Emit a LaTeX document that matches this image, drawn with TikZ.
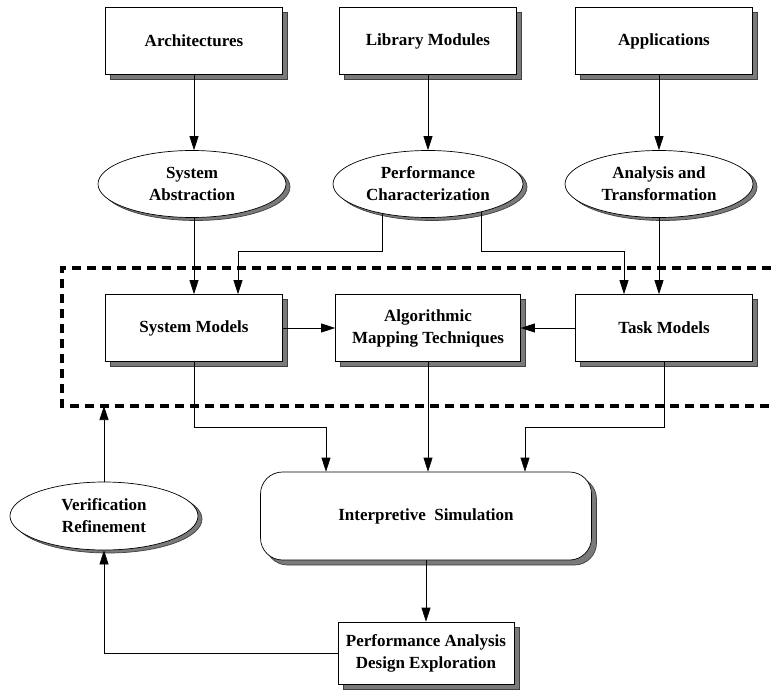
\documentclass[tikz,border=0pt]{standalone}
\usepackage{fontspec}
\setmainfont{Liberation Serif}
\usepackage{tikz}
\usetikzlibrary{shapes.geometric}
\usetikzlibrary{arrows.meta}
\usetikzlibrary{shadows}

\begin{document}
\begin{tikzpicture}[x=1pt,y=-1pt,
        every node/.style={font=\bfseries\fontsize{17}{22}\selectfont,align=center,inner sep=0pt,fill=white},
        sdw/.style={drop shadow={shadow xshift=5pt,shadow yshift=-5pt,fill=black!52,draw=black!75,opacity=1}},
        blockbox/.style={draw,line width=0.7pt,minimum width=177pt,minimum height=67pt,sdw},
        ovalbox/.style={draw,ellipse,line width=0.7pt,minimum width=188pt,minimum height=67pt,
            drop shadow={shadow xshift=4pt,shadow yshift=-3pt,fill=black!52,draw=black!75,opacity=1}},
        arr/.style={line width=0.7pt,-{Triangle[length=14pt,width=9pt]}}]
        \useasboundingbox (0,0) rectangle (771,690);
        % sources
        \node [blockbox] (arch) at (194,41) {Architectures};
        \node [blockbox] (libmod) at (428,41) {Library Modules};
        \node [blockbox] (apps) at (664,41) {Applications};
        \node [ovalbox] (sysabs) at (192,184) {System\\Abstraction};
        \node [ovalbox,minimum width=190pt] (perfchar) at (428,184) {Performance\\Characterization};
        \node [ovalbox] (ana) at (659,184) {Analysis and\\Transformation};
        % mapping stage
        \draw [line width=3.5pt,dash pattern=on 9pt off 6pt] (771,268) -- (62,268) -- (62,406) -- (771,406);
        \node [blockbox] (sysmod) at (194,328) {System Models};
        \node [blockbox,minimum width=185pt] (algo) at (428,328) {Algorithmic\\Mapping Techniques};
        \node [blockbox] (task) at (664,328) {Task Models};
        \node [draw,line width=0.7pt,rounded corners=22pt,minimum width=331pt,minimum height=88pt,sdw] (interp) at (426,516) {Interpretive\ \ Simulation};
        \node [blockbox,minimum width=176pt,minimum height=62pt] (perfana) at (426,653) {Performance Analysis\\Design Exploration};
        \node [ovalbox,minimum height=68pt] (verif) at (104,516) {Verification\\Refinement};
        \coordinate (pl) at (238,251);
        \coordinate (pr) at (624,251);
        \coordinate (bl) at (326,427);
        \coordinate (br) at (525,427);
        \coordinate (dl) at (104,406);
        % connectors
        \draw [arr] (arch) -- (arch |- sysabs.north);
        \draw [arr] (libmod) -- (perfchar);
        \draw [arr] (ana |- apps.south) -- (ana);
        \draw [arr] (sysmod |- sysabs.south) -- (sysmod);
        \draw [arr] (ana) -- (ana |- task.north);
        \draw [arr] (perfchar.213) |- (pl) -- (pl |- sysmod.north);
        \draw [arr] (perfchar.332) |- (pr) -- (pr |- task.north);
        \draw [arr] (sysmod) -- (algo);
        \draw [arr] (task) -- (algo);
        \draw [arr] (sysmod) |- (bl) -- (bl |- interp.north);
        \draw [arr] (algo.south) -- (algo.south |- interp.north);
        \draw [arr] (task) |- (br) -- (br |- interp.north);
        \draw [arr] (interp) -- (perfana);
        \draw [arr] (perfana) -| (verif);
        \draw [arr] (verif) -- (dl);
    \end{tikzpicture}
\end{document}
